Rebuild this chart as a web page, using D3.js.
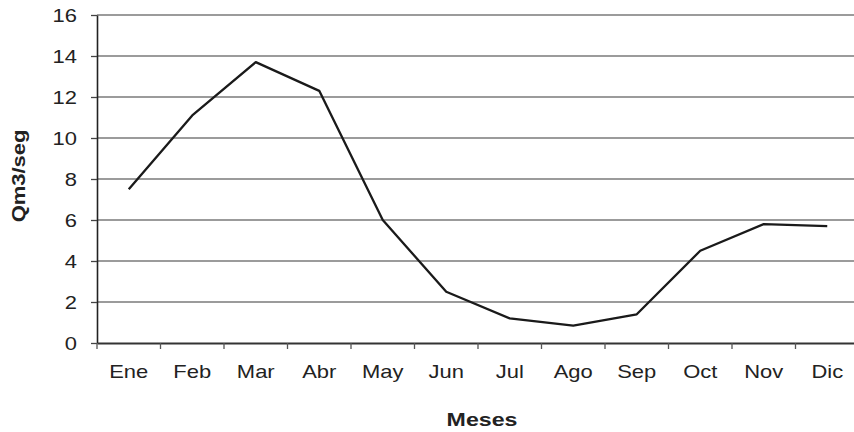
<!DOCTYPE html>
<html><head><meta charset="utf-8">
<script src="https://cdn.jsdelivr.net/npm/d3@7"></script>
<style>
html,body{margin:0;padding:0;background:#fff;overflow:hidden;}
svg{display:block;}
text{font-family:"Liberation Sans",Arial,sans-serif;fill:#222;}
</style></head>
<body>
<script>
const months = ["Ene","Feb","Mar","Abr","May","Jun","Jul","Ago","Sep","Oct","Nov","Dic"];
const caudal = [7.5, 11.1, 13.7, 12.3, 6.0, 2.5, 1.2, 0.85, 1.4, 4.5, 5.8, 5.7];
const yTicks = [0,2,4,6,8,10,12,14,16];
const xTitle = "Meses";
const yTitle = "Qm3/seg";

const W = 854, H = 432;
const svg = d3.select("body").append("svg").attr("width", W).attr("height", H);
const L = 97, R = 859, T = 15, B = 343;
const x = d3.scaleBand().domain(months).range([L, R]);
const y = d3.scaleLinear().domain([0,16]).range([B, T]);
const SX = 1.22;

// gridlines
svg.append("g").selectAll("line").data(yTicks.filter(d=>d>0)).join("line")
  .attr("x1", L).attr("x2", W).attr("y1", d=>y(d)).attr("y2", d=>y(d))
  .attr("stroke", "#7a7a7a").attr("stroke-width", 1.7);

// y axis
const yAx = svg.append("g").attr("transform", `translate(${L},0)`)
  .call(d3.axisLeft(y).tickValues(yTicks).tickSize(6).tickSizeOuter(0).tickPadding(14));
yAx.select(".domain").attr("stroke", "#222").attr("stroke-width", 1.6);
yAx.selectAll(".tick line").attr("stroke", "#444").attr("stroke-width", 1.3);
yAx.selectAll("text").attr("font-size", 18).style("font-family", "Liberation Sans, Arial, sans-serif")
  .attr("fill", "#222").attr("dy", "0.34em")
  .attr("transform", function(){ const xx = +d3.select(this).attr("x"); return `translate(${xx},0) scale(${SX},1) translate(${-xx},0)`; });

// x axis
const xAx = svg.append("g").attr("transform", `translate(0,${B})`)
  .call(d3.axisBottom(x).tickSize(0).tickPadding(22).tickSizeOuter(0));
xAx.select(".domain").attr("stroke", "#333").attr("stroke-width", 1.8);
xAx.selectAll("text").attr("font-size", 18).style("font-family", "Liberation Sans, Arial, sans-serif")
  .attr("fill", "#222").attr("dy", "0.71em")
  .attr("transform", `scale(${SX},1)`).attr("x", 0);
// category boundary ticks
svg.append("g").selectAll("line").data(d3.range(months.length + 1)).join("line")
  .attr("x1", i => L + i * x.step()).attr("x2", i => L + i * x.step())
  .attr("y1", B).attr("y2", B + 6).attr("stroke", "#555").attr("stroke-width", 1.3);

// line
const line = d3.line().x((d,i)=>x(months[i]) + x.bandwidth()/2).y(d=>y(d));
svg.append("path").datum(caudal).attr("d", line)
  .attr("fill", "none").attr("stroke", "#1a1a1a").attr("stroke-width", 2.3).attr("stroke-linejoin", "round");

// titles
svg.append("text").attr("transform", `translate(482,426) scale(${SX},1)`)
  .attr("text-anchor", "middle").attr("font-size", 19).attr("font-weight", "bold").text(xTitle);
svg.append("text").attr("transform", `translate(25,176) rotate(-90) scale(${SX},1)`)
  .attr("text-anchor", "middle").attr("font-size", 18).attr("font-weight", "bold").text(yTitle);
</script>
</body></html>
